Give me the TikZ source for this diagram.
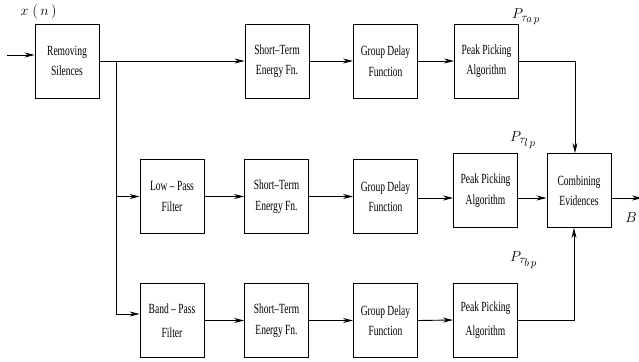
\documentclass[tikz,border=0pt]{standalone}
\usepackage{fontspec}
\newfontfamily\blockfont[FakeStretch=0.68,Ligatures=TeX]{Liberation Serif}
\DeclareMathSizes{14}{14}{11.5}{11}
\usetikzlibrary{arrows.meta,calc}
\begin{document}
\begin{tikzpicture}[x=1pt,y=-1pt,
  blk/.style={draw,line width=0.9pt,minimum width=64pt,minimum height=74pt,
    inner sep=0pt,align=center,font=\blockfont\fontsize{14}{20.5}\selectfont},
  flow/.style={line width=0.9pt,-{Stealth[length=10pt,width=5pt]}},
  wire/.style={line width=0.9pt},
  mlabel/.style={inner sep=0pt,font=\fontsize{14}{16}\selectfont}]
\useasboundingbox (0,0) rectangle (639,361);

% processing blocks
\node[blk] (rs)  at (67,61)      {Removing\\Silences};
\node[blk] (st1) at (277,61)     {Short--Term\\Energy Fn.};
\node[blk] (gd1) at (385.5,61)   {Group Delay\\Function};
\node[blk] (pp1) at (486.5,61)   {Peak Picking\\Algorithm};

\node[blk] (lpf) at (172,196.5)  {Low -- Pass\\Filter};
\node[blk] (st2) at (276.5,196.5){Short--Term\\Energy Fn.};
\node[blk] (gd2) at (385.5,196.5){Group Delay\\Function};
\node[blk] (pp2) at (485.5,190.5){Peak Picking\\Algorithm};
\node[blk] (cb)  at (579,190.5)  {Combining\\Evidences};

\node[blk] (bpf) at (172,320.5)  {Band -- Pass\\[3pt]Filter};
\node[blk] (st3) at (276.5,320.5){Short--Term\\Energy Fn.};
\node[blk] (gd3) at (385.5,320.5){Group Delay\\Function};
\node[blk] (pp3) at (485.5,320)  {Peak Picking\\[3pt]Algorithm};

% signal labels
\node[mlabel] (xn) at (38.5,12) {$x\;(\,n\,)$};
\node[mlabel,anchor=west] (pap) at (512,17)  {$P_{\tau_{a\,p}}$};
\node[mlabel,anchor=west] (plp) at (510,140) {$P_{\tau_{l\,p}}$};
\node[mlabel,anchor=west] (pbp) at (510,260) {$P_{\tau_{b\,p}}$};
\node[mlabel] (bout) at (631,218) {$B$};

% connection points
\coordinate (in)  at (7,55);
\coordinate (j)   at (116,61);
\coordinate (jb)  at (116,314);
\coordinate (ca)  at (575,61);
\coordinate (cbb) at (574,320);
\coordinate (out) at (642,198);

% input and top row
\draw[flow] (in) -- (rs.west |- in);
\draw[flow] (rs.east) -- (st1.west);
\draw[flow] (st1.east) -- (gd1.west);
\draw[flow] (gd1.east) -- (pp1.west);

% branch to the filter rows
\draw[wire] (j) -- (jb);
\draw[flow] (j |- lpf.west) -- (lpf.west);
\draw[flow] (jb) -- (bpf.west |- jb);

% middle row
\draw[flow] (lpf.east) -- (st2.west);
\draw[flow] (st2.east) -- (gd2.west);
\draw[flow] (gd2.east |- 0,198) -- (pp2.west |- 0,198);
\draw[flow] (pp2.east |- 0,198) -- (cb.west |- 0,198);
\draw[flow] (cb.east |- 0,198) -- (out);

% bottom row
\draw[flow] (bpf.east) -- (st3.west);
\draw[flow] (st3.east) -- (gd3.west);
\draw[flow] (gd3.east) -- (pp3.west);

% peak outputs into the combiner
\draw[flow] (pp1.east) -- (ca) -- (ca |- cb.north);
\draw[flow] (pp3.east) -- (cbb) -- (cbb |- cb.south);
\end{tikzpicture}
\end{document}
